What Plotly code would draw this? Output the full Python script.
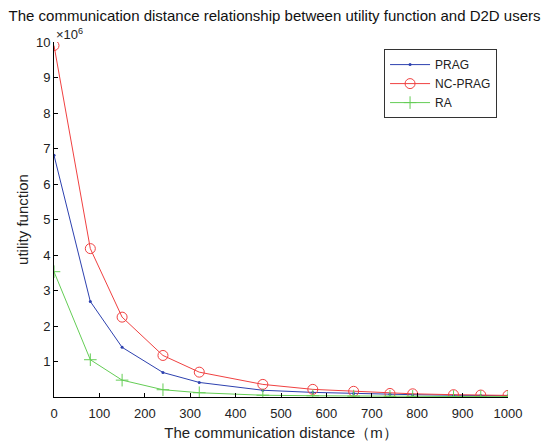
import plotly.graph_objects as go

distance = [0, 80, 150, 240, 320, 460, 570, 660, 740, 790, 880, 940, 1000]
prag = [6.81, 2.69, 1.40, 0.69, 0.41, 0.19, 0.13, 0.10, 0.075, 0.065, 0.05, 0.04, 0.035]
nc_prag = [9.9, 4.18, 2.25, 1.17, 0.70, 0.355, 0.215, 0.16, 0.10, 0.09, 0.065, 0.055, 0.045]
ra = [3.53, 1.05, 0.475, 0.205, 0.12, 0.05, 0.035, 0.025, 0.02, 0.017, 0.013, 0.011, 0.01]
scale = 1e6
y_ticks = [1, 2, 3, 4, 5, 6, 7, 8, 9, 10]
x_ticks = [0, 100, 200, 300, 400, 500, 600, 700, 800, 900, 1000]

font = "Liberation Sans, Arial, sans-serif"
blue = "rgb(45,65,175)"
red = "rgb(240,65,65)"
green = "rgb(100,205,85)"

fig = go.Figure()
fig.add_trace(go.Scatter(
    x=distance, y=[v * scale for v in prag], name="PRAG", mode="lines+markers",
    line=dict(color=blue, width=1),
    marker=dict(symbol="circle", size=3, color=blue)))
fig.add_trace(go.Scatter(
    x=distance, y=[v * scale for v in nc_prag], name="NC-PRAG", mode="lines+markers",
    line=dict(color=red, width=1),
    marker=dict(symbol="circle-open", size=10, color=red, line=dict(width=1))))
fig.add_trace(go.Scatter(
    x=distance, y=[v * scale for v in ra], name="RA", mode="lines+markers",
    line=dict(color=green, width=1),
    marker=dict(symbol="cross-thin-open", size=9, color=green, line=dict(width=1, color=green))))

fig.update_layout(
    width=544, height=435,
    margin=dict(l=46, r=44, t=34, b=46, autoexpand=False),
    paper_bgcolor="white", plot_bgcolor="white",
    font=dict(family=font, size=13, color="#222"),
    title=dict(text="The communication distance relationship between utility function and D2D users",
               x=0.49, xanchor="center", xref="container", yref="container",
               y=0.995, yanchor="top", pad=dict(t=0, b=0), font=dict(size=15, color="#111"),
               automargin=False),
    showlegend=True,
    legend=dict(x=0.727, y=0.98, xanchor="left", yanchor="top",
                bordercolor="#333", borderwidth=1, bgcolor="white",
                font=dict(size=12, color="#222"), tracegroupgap=0, itemwidth=40),
    xaxis=dict(range=[0, 1000], tickvals=x_ticks, ticktext=[str(t) for t in x_ticks],
               showgrid=False, zeroline=False, showline=True, linecolor="black", linewidth=1,
               ticks="inside", ticklen=4, tickcolor="black", automargin=False,
               tickfont=dict(size=13), ticklabelstandoff=4,
               title=dict(text="The communication distance（m）", standoff=7, font=dict(size=15))),
    yaxis=dict(range=[0, 10 * scale], tickvals=[t * scale for t in y_ticks],
               ticktext=[str(t) for t in y_ticks],
               showgrid=False, zeroline=False, showline=True, linecolor="black", linewidth=1,
               ticks="inside", ticklen=4, tickcolor="black", automargin=False,
               tickfont=dict(size=13),
               title=dict(text="utility function", standoff=3, font=dict(size=15))),
    annotations=[dict(text="×10<sup>6</sup>", x=0, y=1, xref="paper", yref="paper",
                      xanchor="left", yanchor="bottom", showarrow=False, xshift=0, yshift=-2,
                      font=dict(size=13, color="#222"))],
)

fig.write_html("out.html")
